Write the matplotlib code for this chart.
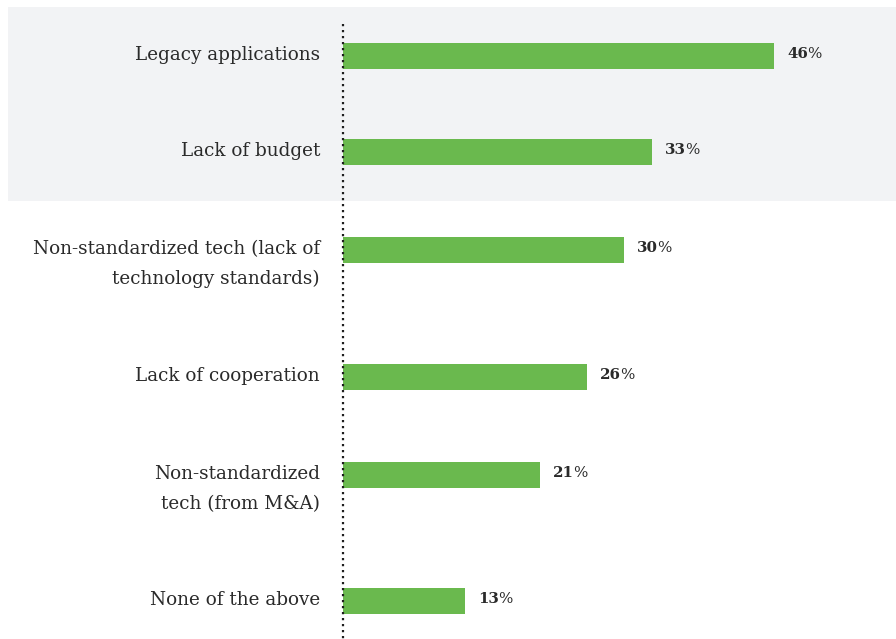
import matplotlib
matplotlib.use("Agg")
import matplotlib.pyplot as plt
from matplotlib.patches import Rectangle
from matplotlib.transforms import blended_transform_factory

# Survey results: barriers, share of respondents (%)
categories = [
    "Legacy applications",
    "Lack of budget",
    "Non-standardized tech (lack of\ntechnology standards)",
    "Lack of cooperation",
    "Non-standardized\ntech (from M&A)",
    "None of the above",
]
values = [46, 33, 30, 26, 21, 13]

# Row layout (in row units); two-line labels take extra room
row_pos = [0.0, 0.99, 2.0, 3.31, 4.32, 5.62]
highlight_rows = 2  # first rows sit on a shaded band

BAR_COLOR = "#6ab94e"
TEXT_COLOR = "#2a2a2a"
BAND_COLOR = "#f2f3f5"
FONT = ["DejaVu Serif"]

W, H = 896, 639
fig = plt.figure(figsize=(W / 100, H / 100), dpi=100)
fig.patch.set_facecolor("white")

ax = fig.add_axes([343 / W, 0, 1 - 343 / W, 1])
ax.set_zorder(2)
ax.patch.set_alpha(0)
ax.set_xlim(0, 59)
ax.set_ylim(6.01, -0.577)
for s in ax.spines.values():
    s.set_visible(False)
ax.set_xticks([])
ax.set_yticks([])

# Shaded band behind the first rows, extending past the axes on the left
trans = blended_transform_factory(fig.transFigure, ax.transData)
band = Rectangle((8 / W, -0.5), 1 - 8 / W, highlight_rows, transform=trans,
                 facecolor=BAND_COLOR, edgecolor="none", zorder=0, clip_on=False)
fig.patches.append(band)

ax.barh(row_pos, values, height=0.268, color=BAR_COLOR, zorder=2)

# Dotted baseline
ax.plot([0, 0], [-0.33, 6.1], color="#1e1e1e", lw=1.6,
        linestyle=(0, (1, 1.7)), zorder=3, clip_on=False)

fs = 13.2
for y, cat, v in zip(row_pos, categories, values):
    ax.annotate(cat, xy=(0, y), xycoords="data", xytext=(-23, 10),
                textcoords="offset pixels", ha="right", va="top",
                fontsize=fs, family=FONT, color=TEXT_COLOR,
                multialignment="right", linespacing=1.85)
    num = ax.annotate(f"{v}", xy=(v, y), xycoords="data", xytext=(13, 2),
                      textcoords="offset pixels", ha="left", va="center",
                      fontsize=10.8, family=FONT, fontweight="bold",
                      color=TEXT_COLOR)
    ax.annotate("%", xy=(1, 0), xycoords=num, xytext=(-1, 0),
                textcoords="offset pixels", ha="left", va="bottom",
                fontsize=10.8, family=FONT, color=TEXT_COLOR)

fig.savefig("out.png", dpi=100)
